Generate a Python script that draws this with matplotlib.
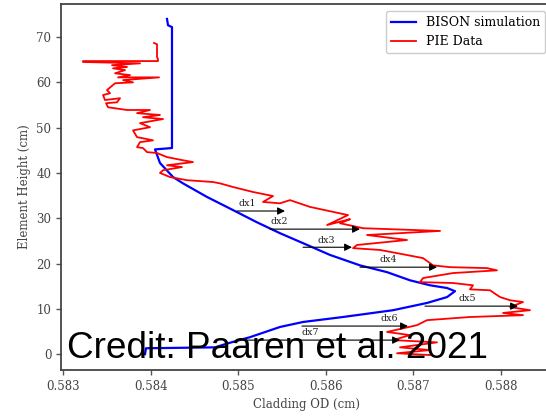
import matplotlib
matplotlib.use("Agg")
import matplotlib.pyplot as plt

# ── Data ──────────────────────────────────────────────────────────────────────

bison_od = [0.584187, 0.584199, 0.584244, 0.584244, 0.584050, 0.584107, 0.584256,
            0.584370, 0.584644, 0.584941, 0.585215, 0.585477, 0.585740, 0.586048,
            0.586390, 0.586699, 0.586961, 0.587190, 0.587384, 0.587475, 0.587384,
            0.587155, 0.586767, 0.586196, 0.585740, 0.585477, 0.585135, 0.584884,
            0.584735, 0.583947, 0.583936]
bison_h = [74.0, 72.6, 72.2, 45.5, 45.2, 42.2, 39.1,
           37.7, 34.7, 31.8, 29.1, 26.7, 24.5, 21.9,
           19.6, 18.1, 16.3, 15.2, 14.6, 13.9, 12.6,
           11.3, 9.7, 8.2, 7.1, 6.0, 3.75, 2.4,
           1.5, 1.3, 0.0]

pie_od = [0.584039, 0.584073, 0.584073, 0.584084, 0.584084, 0.583228, 0.583228,
          0.583879, 0.583559, 0.583731, 0.583571, 0.583708, 0.583594, 0.583765,
          0.583628, 0.584096, 0.583685, 0.583799, 0.583594, 0.583502, 0.583537,
          0.583457, 0.583479, 0.583651, 0.583616, 0.583491, 0.583514, 0.583731,
          0.583993, 0.583845, 0.584107, 0.583913, 0.584142, 0.583879, 0.583993,
          0.583799, 0.583845, 0.583902, 0.584027, 0.583879, 0.583845, 0.583913,
          0.583959, 0.584073, 0.584187, 0.584370, 0.584484, 0.584187, 0.584358,
          0.584142, 0.584107, 0.584221, 0.584416, 0.584712, 0.584792, 0.584941,
          0.585169, 0.585397, 0.585283, 0.585477, 0.585591, 0.585820, 0.586253,
          0.586014, 0.586276, 0.586162, 0.586425, 0.587304, 0.586470, 0.586927,
          0.586356, 0.586311, 0.586619, 0.586813, 0.587110, 0.587224, 0.587418,
          0.587840, 0.587954, 0.587452, 0.587110, 0.587075, 0.587452, 0.587680,
          0.587646, 0.587874, 0.587989, 0.588103, 0.588251, 0.588103, 0.588331,
          0.588023, 0.588251, 0.587646, 0.587155, 0.587041, 0.586881, 0.586699,
          0.586961, 0.586767, 0.587269, 0.586847, 0.587189, 0.586813, 0.587189]
pie_h = [68.7, 68.4, 65.6, 65.1, 64.7, 64.7, 64.5,
         64.2, 63.8, 63.4, 63.1, 62.7, 62.0, 61.6,
         61.1, 61.1, 60.5, 60.0, 59.8, 58.3, 57.6,
         57.2, 56.1, 56.5, 55.6, 55.4, 54.5, 53.9,
         53.9, 53.2, 52.8, 52.3, 51.9, 51.0, 50.1,
         49.4, 47.9, 47.7, 47.2, 46.8, 45.7, 45.5,
         44.6, 44.4, 43.5, 42.8, 42.4, 41.7, 41.3,
         40.6, 40.0, 39.1, 38.4, 38.0, 37.7, 36.9,
         35.8, 34.9, 33.6, 33.3, 34.0, 32.5, 30.7,
         28.5, 29.8, 28.9, 27.8, 27.2, 26.3, 25.2,
         24.1, 23.4, 23.0, 22.3, 21.2, 19.6, 19.2,
         19.0, 18.5, 17.9, 16.8, 15.9, 15.7, 15.2,
         14.3, 14.1, 12.6, 11.9, 11.5, 10.4, 9.7,
         9.1, 8.6, 8.2, 7.5, 6.4, 5.7, 4.9,
         4.2, 3.1, 2.6, 1.5, 0.9, 0.2, -0.2]

# dx arrows: height, start (simulation) and tip (data), label x
dx_labels = ["dx1", "dx2", "dx3", "dx4", "dx5", "dx6", "dx7"]
dx_h      = [31.6, 27.6, 23.6, 19.2, 10.6, 6.2, 3.1]
dx_start  = [0.584986, 0.585363, 0.585740, 0.586390, 0.587132, 0.585728, 0.585000]
dx_end    = [0.585534, 0.586390, 0.586299, 0.587269, 0.588194, 0.586938, 0.586847]
dx_text_x = [0.585100, 0.585470, 0.586010, 0.586710, 0.587620, 0.586730, 0.585820]

x_ticks = [0.583, 0.584, 0.585, 0.586, 0.587, 0.588]
y_ticks = [0, 10, 20, 30, 40, 50, 60, 70]

# ── Figure ────────────────────────────────────────────────────────────────────

plt.rcParams.update({
    "font.family": "DejaVu Serif",
    "axes.edgecolor": "#444444",
    "xtick.color": "#555555",
    "ytick.color": "#555555",
    "xtick.labelcolor": "#444444",
    "ytick.labelcolor": "#444444",
})

fig = plt.figure(figsize=(5.46, 4.17), dpi=100)
ax = fig.add_axes([61 / 546, 47 / 417, 491 / 546, 366 / 417])

ax.plot(bison_od, bison_h, color="#0000ff", lw=1.6, label="BISON simulation")
ax.plot(pie_od, pie_h, color="#ff0000", lw=1.3, label="PIE Data")

for lab, h, x0, x1, tx in zip(dx_labels, dx_h, dx_start, dx_end, dx_text_x):
    ax.annotate("", xy=(x1, h), xytext=(x0, h),
                arrowprops=dict(arrowstyle="-|>", color="black", lw=0.8,
                                mutation_scale=11, shrinkA=0, shrinkB=0))
    ax.text(tx, h + 0.6, lab, fontsize=6.8, ha="center", va="bottom", color="#222222")

ax.set_xlim(0.582977, 0.588582)
ax.set_ylim(-3.5, 77.3)
ax.set_xticks(x_ticks)
ax.set_xticklabels([f"{t:.3f}" for t in x_ticks])
ax.set_yticks(y_ticks)
ax.tick_params(labelsize=8.5, length=3.5, width=1)
for s in ax.spines.values():
    s.set_linewidth(1.3)

ax.set_xlabel("Cladding OD (cm)", fontsize=8.5, color="#444444", labelpad=4)
ax.set_ylabel("Element Height (cm)", fontsize=8.5, color="#444444", labelpad=4)

ax.legend(loc="upper right", bbox_to_anchor=(545 / 546, 1 - 11 / 417),
          bbox_transform=fig.transFigure, borderaxespad=0, fontsize=9,
          handlelength=2.0, framealpha=1, edgecolor="#cccccc")

fig.text(67 / 546, 59 / 417, "Credit: Paaren et al. 2021", fontsize=26.6,
         family="Liberation Sans", color="black", va="baseline", ha="left")

fig.savefig("out.png", dpi=100)
